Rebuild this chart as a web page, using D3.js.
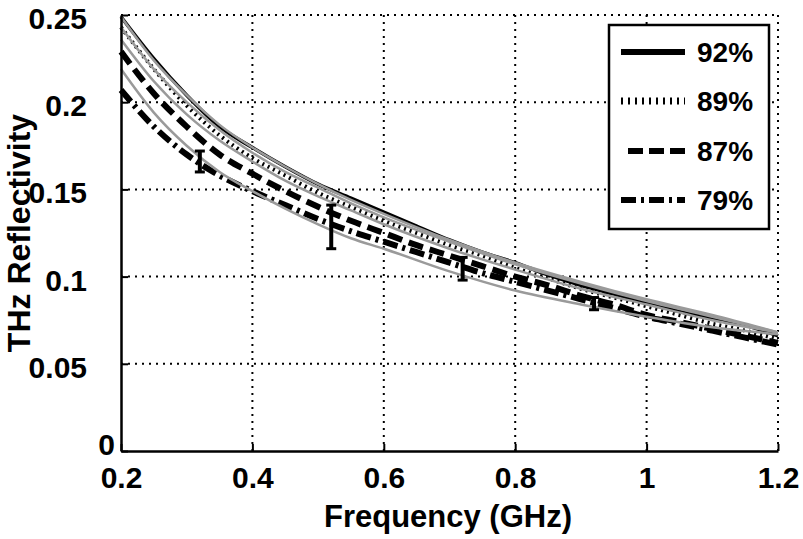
<!DOCTYPE html>
<html><head><meta charset="utf-8">
<script src="https://cdn.jsdelivr.net/npm/d3@7"></script>
<style>
html,body{margin:0;padding:0;background:#fff;}
svg{display:block;font-family:"Liberation Sans",Arial,sans-serif;font-weight:bold;}
</style></head>
<body>
<svg id="chart" width="803" height="539"></svg>
<script>
const freq = [0.2,0.25,0.3,0.35,0.4,0.45,0.5,0.55,0.6,0.65,0.7,0.75,0.8,0.85,0.9,0.95,1.0,1.05,1.1,1.15,1.2];
const s92 = [0.249,0.225,0.204,0.186,0.174,0.163,0.153,0.145,0.137,0.129,0.121,0.114,0.108,0.101,0.095,0.090,0.085,0.080,0.076,0.072,0.066];
const s89 = [0.243,0.219,0.198,0.181,0.168,0.158,0.148,0.140,0.132,0.125,0.118,0.112,0.105,0.099,0.093,0.088,0.083,0.078,0.073,0.069,0.064];
const s87 = [0.229,0.205,0.186,0.170,0.159,0.149,0.140,0.132,0.125,0.118,0.112,0.106,0.100,0.095,0.089,0.084,0.078,0.074,0.070,0.066,0.062];
const s79 = [0.207,0.186,0.170,0.158,0.149,0.141,0.133,0.126,0.120,0.114,0.108,0.102,0.097,0.092,0.087,0.082,0.077,0.073,0.069,0.065,0.061];
const fitFreq = [0.2,0.25,0.3,0.35,0.4,0.45,0.5,0.55,0.6,0.7,0.8,0.9,1.0,1.1,1.2];
const fit1 = [0.249,0.224,0.204,0.187,0.174,0.163,0.153,0.144,0.136,0.121,0.108,0.097,0.087,0.078,0.068];
const fit2 = [0.243,0.219,0.200,0.184,0.171,0.160,0.151,0.142,0.134,0.120,0.107,0.096,0.086,0.077,0.068];
const fit3 = [0.236,0.212,0.193,0.178,0.166,0.155,0.146,0.138,0.130,0.116,0.104,0.093,0.084,0.075,0.068];
const fit4 = [0.219,0.194,0.175,0.160,0.149,0.139,0.130,0.122,0.116,0.103,0.092,0.084,0.077,0.071,0.067];
const errFreq = [0.32,0.52,0.72,0.92];
const errLo = [0.160,0.116,0.098,0.081];
const errHi = [0.172,0.141,0.111,0.088];
const xTicks = [0.2,0.4,0.6,0.8,1.0,1.2];
const xTickLabels = ["0.2","0.4","0.6","0.8","1","1.2"];
const yTicks = [0,0.05,0.1,0.15,0.2,0.25];
const yTickLabels = ["0","0.05","0.1","0.15","0.2","0.25"];
const legendLabels = ["92%","89%","87%","79%"];

const svg = d3.select("#chart");
const x = d3.scaleLinear().domain([0.2,1.2]).range([121,778]);
const y = d3.scaleLinear().domain([0,0.25]).range([451,15]);

// grid
const grid = svg.append("g").attr("stroke","#000").attr("stroke-width",2).attr("stroke-dasharray","2,5");
xTicks.slice(1).forEach(t=>grid.append("line").attr("x1",x(t)).attr("x2",x(t)).attr("y1",y(0)).attr("y2",y(0.25)));
yTicks.slice(1).forEach(t=>grid.append("line").attr("x1",x(0.2)).attr("x2",x(1.2)).attr("y1",y(t)).attr("y2",y(t)));

const line = d3.line().x(d=>x(d[0])).y(d=>y(d[1])).curve(d3.curveMonotoneX);
const series = [
  {v:s92, w:3.5, dash:null},
  {v:s89, w:4, dash:"2,4"},
  {v:s87, w:6, dash:"15,7"},
  {v:s79, w:6, dash:"15,5,3,5"}
];
series.forEach(s=>{
  svg.append("path").attr("d",line(freq.map((f,i)=>[f,s.v[i]])))
    .attr("fill","none").attr("stroke","#000").attr("stroke-width",s.w)
    .attr("stroke-dasharray",s.dash);
});
[fit1,fit2,fit3,fit4].forEach(v=>{
  svg.append("path").attr("d",line(fitFreq.map((f,i)=>[f,v[i]])))
    .attr("fill","none").attr("stroke","#9a9a9a").attr("stroke-width",2.5);
});
// error bars
errFreq.forEach((f,i)=>{
  const g = svg.append("g").attr("stroke","#000");
  g.append("line").attr("x1",x(f)).attr("x2",x(f)).attr("y1",y(errLo[i])).attr("y2",y(errHi[i])).attr("stroke-width",4);
  g.append("line").attr("x1",x(f)-5).attr("x2",x(f)+5).attr("y1",y(errLo[i])).attr("y2",y(errLo[i])).attr("stroke-width",3);
  g.append("line").attr("x1",x(f)-5).attr("x2",x(f)+5).attr("y1",y(errHi[i])).attr("y2",y(errHi[i])).attr("stroke-width",3);
});

// axes
const xAxis = d3.axisBottom(x).tickValues(xTicks).tickFormat((d,i)=>xTickLabels[i]).tickSizeInner(-7).tickSizeOuter(0).tickPadding(16);
const gx = svg.append("g").attr("transform",`translate(0,${y(0)})`).call(xAxis);
gx.select(".domain").attr("stroke","#000").attr("stroke-width",2.5);
gx.selectAll(".tick line").attr("stroke","#000").attr("stroke-width",2);
gx.selectAll("text").attr("font-size",30).attr("font-weight","bold").attr("font-family","Liberation Sans, Arial, sans-serif").attr("fill","#000");

const yAxis = d3.axisLeft(y).tickValues(yTicks).tickFormat((d,i)=>yTickLabels[i]).tickSizeInner(-7).tickSizeOuter(0).tickPadding(34);
const gy = svg.append("g").attr("transform",`translate(${x(0.2)},0)`).call(yAxis);
gy.select(".domain").attr("stroke","#000").attr("stroke-width",2.5);
gy.selectAll(".tick line").attr("stroke","#000").attr("stroke-width",2);
gy.selectAll("text").attr("font-size",30).attr("font-weight","bold").attr("font-family","Liberation Sans, Arial, sans-serif").attr("fill","#000").attr("dy","0.45em");
gy.selectAll(".tick").filter(d=>d===0).select("text").attr("x",-6).attr("dy","0.1em");

// axis titles
svg.append("text").attr("x",448).attr("y",527).attr("text-anchor","middle").attr("font-size",31).text("Frequency (GHz)");
svg.append("text").attr("transform","translate(30,233) rotate(-90)").attr("text-anchor","middle").attr("font-size",32).text("THz Reflectivity");

// legend
const lg = svg.append("g");
lg.append("rect").attr("x",609).attr("y",25).attr("width",160).attr("height",204).attr("fill","#fff").attr("stroke","#000").attr("stroke-width",2.5);
const rowY = [52,101,151,200];
const legStyles = [
  {x1:621,w:6,dash:null},
  {x1:621,w:7,dash:"2,5"},
  {x1:628,w:6,dash:"15,6"},
  {x1:621,w:6,dash:"15,5,3,5"}
];
legendLabels.forEach((t,i)=>{
  lg.append("line").attr("x1",legStyles[i].x1).attr("x2",685).attr("y1",rowY[i]).attr("y2",rowY[i])
    .attr("stroke","#000").attr("stroke-width",legStyles[i].w).attr("stroke-dasharray",legStyles[i].dash);
  lg.append("text").attr("x",697).attr("y",rowY[i]).attr("dy","0.36em").attr("font-size",28).text(t);
});
</script>
</body></html>
